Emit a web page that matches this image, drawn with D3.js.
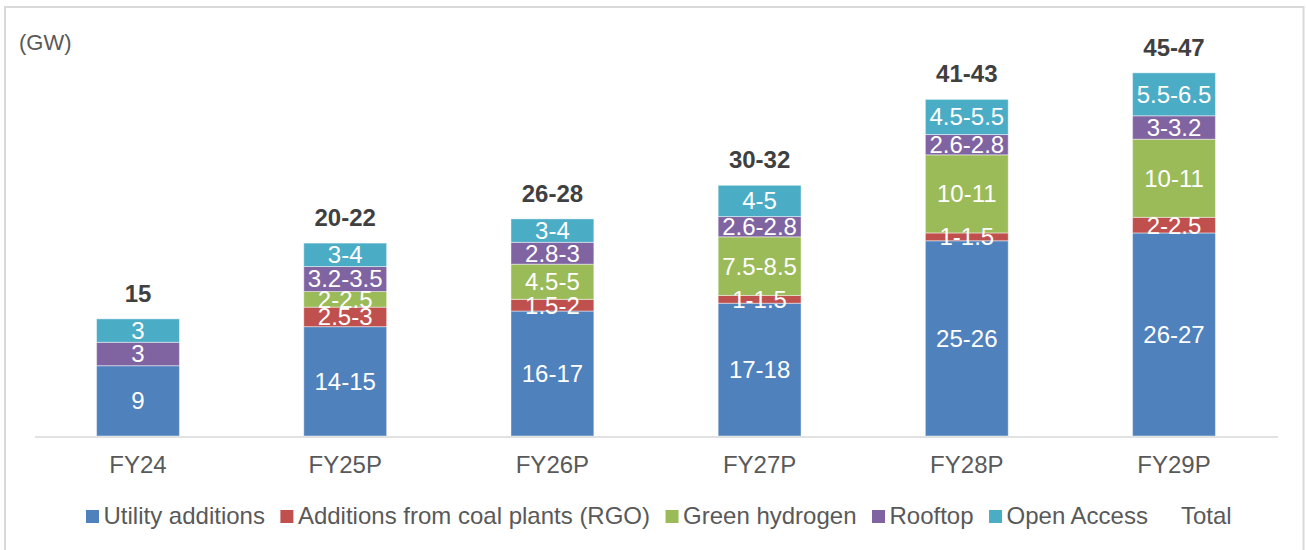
<!DOCTYPE html>
<html>
<head>
<meta charset="utf-8">
<script src="https://cdn.jsdelivr.net/npm/d3@7"></script>
<style>
  html, body { margin: 0; padding: 0; background: #fff; }
  svg { display: block; font-family: "Liberation Sans", Arial, sans-serif; }
</style>
</head>
<body>
<svg id="chart" width="1306" height="550"></svg>
<script>
// Fiscal years
const categories = ["FY24", "FY25P", "FY26P", "FY27P", "FY28P", "FY29P"];

// Capacity additions (GW): low and high end of each estimate
const utilityLow  = [9, 14, 16, 17, 25, 26];
const utilityHigh = [9, 15, 17, 18, 26, 27];
const rgoLow      = [0, 2.5, 1.5, 1, 1, 2];
const rgoHigh     = [0, 3, 2, 1.5, 1.5, 2.5];
const greenLow    = [0, 2, 4.5, 7.5, 10, 10];
const greenHigh   = [0, 2.5, 5, 8.5, 11, 11];
const rooftopLow  = [3, 3.2, 2.8, 2.6, 2.6, 3];
const rooftopHigh = [3, 3.5, 3, 2.8, 2.8, 3.2];
const openLow     = [3, 3, 3, 4, 4.5, 5.5];
const openHigh    = [3, 4, 4, 5, 5.5, 6.5];
const totalLow    = [15, 20, 26, 30, 41, 45];
const totalHigh   = [15, 22, 28, 32, 43, 47];

const seriesNames  = ["Utility additions", "Additions from coal plants (RGO)", "Green hydrogen", "Rooftop", "Open Access"];
const seriesColors = ["#4f81bd", "#c0504d", "#9bbb59", "#8064a2", "#4bacc6"];
const lows  = [utilityLow, rgoLow, greenLow, rooftopLow, openLow];
const highs = [utilityHigh, rgoHigh, greenHigh, rooftopHigh, openHigh];

const svg = d3.select("#chart");
const FS = 24;

// frame
svg.append("path")
  .attr("d", "M5,550 L5,7 L1303.5,7 L1303.5,550")
  .attr("fill", "none").attr("stroke", "#d9d9d9").attr("stroke-width", 2);

// unit label
svg.append("text")
  .attr("x", 19).attr("y", 50)
  .attr("font-size", 22).attr("fill", "#595959")
  .text("(GW)");

const x = d3.scaleBand().domain(categories).range([34.4, 1277.6])
  .paddingInner(0.6).paddingOuter(0.3);
const y = d3.scaleLinear().domain([0, 50]).range([436, 45.5]);

// stacked rows built from the low ends
const rows = categories.map((c, i) => {
  const r = { cat: c };
  seriesNames.forEach((s, k) => { r[s] = lows[k][i]; });
  return r;
});
const stacked = d3.stack().keys(seriesNames)(rows);

const fmt = (lo, hi) => lo === hi ? String(lo) : `${lo}-${hi}`;

const layers = svg.append("g").selectAll("g")
  .data(stacked).join("g")
  .attr("fill", (d, k) => seriesColors[k]);

layers.selectAll("rect")
  .data(d => d.filter(p => p[1] - p[0] > 0))
  .join("rect")
  .attr("x", p => x(p.data.cat))
  .attr("width", x.bandwidth())
  .attr("y", p => y(p[1]))
  .attr("height", p => y(p[0]) - y(p[1]))
  .attr("stroke", "#ffffff").attr("stroke-opacity", 0.45).attr("stroke-width", 1);

// segment labels
stacked.forEach((layer, k) => {
  svg.append("g").selectAll("text")
    .data(layer.map((p, i) => ({ p, i })).filter(o => o.p[1] - o.p[0] > 0))
    .join("text")
    .attr("x", o => x(o.p.data.cat) + x.bandwidth() / 2)
    .attr("y", o => (y(o.p[0]) + y(o.p[1])) / 2)
    .attr("dy", "0.35em")
    .attr("text-anchor", "middle")
    .attr("font-size", FS).attr("fill", "#ffffff")
    .text(o => fmt(lows[k][o.i], highs[k][o.i]));
});

// axis
const axis = svg.append("g")
  .attr("transform", "translate(0,436)")
  .call(d3.axisBottom(x).tickSize(0).tickPadding(20));
axis.select(".domain").attr("stroke", "#d9d9d9").attr("stroke-width", 1.5)
  .attr("transform", "translate(0,0.5)");
axis.selectAll("text")
  .attr("font-size", FS).attr("fill", "#595959")
  .attr("font-family", "\"Liberation Sans\", Arial, sans-serif");

// totals above each stack
const topLayer = stacked[stacked.length - 1];
svg.append("g").selectAll("text")
  .data(topLayer.map((p, i) => ({ p, i })))
  .join("text")
  .attr("x", o => x(o.p.data.cat) + x.bandwidth() / 2)
  .attr("y", o => y(o.p[1]) - 17)
  .attr("text-anchor", "middle")
  .attr("font-size", FS).attr("font-weight", "bold").attr("fill", "#404040")
  .text(o => fmt(totalLow[o.i], totalHigh[o.i]));

// legend
const legendItems = seriesNames.map((n, k) => ({ name: n, color: seriesColors[k] }))
  .concat([{ name: "Total", color: "none" }]);
const legend = svg.append("g");
let lx = 86;
legendItems.forEach(it => {
  legend.append("rect")
    .attr("x", lx).attr("y", 510).attr("width", 13).attr("height", 13)
    .attr("fill", it.color);
  const t = legend.append("text")
    .attr("x", lx + 17.5).attr("y", 523.5)
    .attr("font-size", FS).attr("fill", "#595959")
    .text(it.name);
  lx += 17.5 + t.node().getComputedTextLength() + 15.5;
});
</script>
</body>
</html>
